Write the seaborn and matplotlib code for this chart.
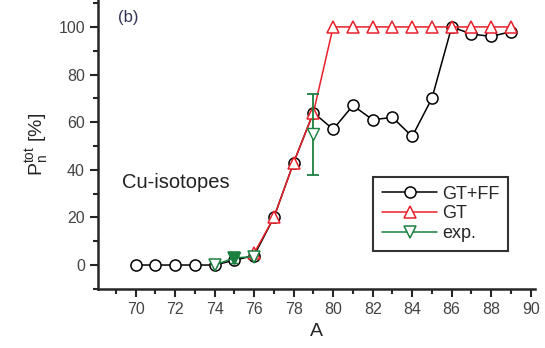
import numpy as np
import pandas as pd
import matplotlib
matplotlib.use("Agg")
import matplotlib.pyplot as plt
from matplotlib.ticker import MultipleLocator
import seaborn as sns

# data
a_gtff = [70, 71, 72, 73, 74, 75, 76, 77, 78, 79, 80, 81, 82, 83, 84, 85, 86, 87, 88, 89]
p_gtff = [0, 0, 0, 0, 0, 2, 4, 20, 43, 64, 57, 67, 61, 62, 54, 70, 100, 97, 96, 98]
a_gt = [76, 77, 78, 79, 80, 81, 82, 83, 84, 85, 86, 87, 88, 89]
p_gt = [5, 20, 43, 64, 100, 100, 100, 100, 100, 100, 100, 100, 100, 100]
a_exp = [74, 75, 76]
p_exp = [0, 3, 3.5]
a_exp79 = [79]
p_exp79 = [55]
err_exp79 = [[17], [17]]

sns.set_style("ticks")
plt.rcParams["font.family"] = ["Liberation Sans", "DejaVu Sans"]

fig = plt.figure(figsize=(5.45, 3.48), dpi=100)
ax = fig.add_axes([0.18, 0.17, 0.801, 0.83])

df_gtff = pd.DataFrame({"A": a_gtff, "P": p_gtff})
df_gt = pd.DataFrame({"A": a_gt, "P": p_gt})
df_exp = pd.DataFrame({"A": a_exp, "P": p_exp})

sns.lineplot(data=df_gtff, x="A", y="P", ax=ax, color="black", lw=1.1, marker="o",
             ms=8, mfc="white", mec="black", mew=1.1, label="GT+FF", zorder=3)
sns.lineplot(data=df_gt, x="A", y="P", ax=ax, color="#e8202a", lw=1.1, marker="^",
             ms=8, mfc="white", mec="#e8202a", mew=1.1, label="GT", zorder=4)
sns.lineplot(data=df_exp, x="A", y="P", ax=ax, color="#1a8040", lw=1.1, marker="v",
             ms=8, mfc="white", mec="#1a8040", mew=1.1, label="exp.", zorder=5)
ax.errorbar(a_exp79, p_exp79, yerr=err_exp79, fmt="v", ms=8, mfc="white", mec="#1a8040",
            ecolor="#1a8040", elinewidth=1.3, capsize=4, capthick=1.3, zorder=5)
ax.errorbar([75], [3], yerr=[[2], [2]], fmt="v", ms=8, mfc="#1a8040", mec="#1a8040",
            ecolor="#1a8040", elinewidth=1.6, capsize=3, zorder=6)

ax.set_xlim(68.1, 90.2)
ax.set_ylim(-10, 111.3)
ax.xaxis.set_major_locator(MultipleLocator(2))
ax.xaxis.set_minor_locator(MultipleLocator(1))
ax.yaxis.set_major_locator(MultipleLocator(20))
ax.yaxis.set_minor_locator(MultipleLocator(10))
ax.tick_params(which="major", length=6, width=1.5, labelsize=11.5, labelcolor="#444444", direction="out")
ax.tick_params(which="minor", length=3.5, width=1.5, direction="out")
for s in ["top", "right"]:
    ax.spines[s].set_visible(False)
for s in ["left", "bottom"]:
    ax.spines[s].set_linewidth(1.8)

ax.set_xlabel("A", fontsize=14, labelpad=4)
ax.set_ylabel(r"P$_{\mathregular{n}}^{\mathregular{tot}}$ [%]", fontsize=14, labelpad=5)

ax.text(0.045, 0.965, "(b)", transform=ax.transAxes, fontsize=12, color="#333355", va="top")
ax.text(0.055, 0.35, "Cu-isotopes", transform=ax.transAxes, fontsize=14.5, color="#222222")

leg = ax.legend(loc="upper left", bbox_to_anchor=(0.61, 0.42), fontsize=13,
                frameon=True, fancybox=False, edgecolor="black", handlelength=3.0,
                handletextpad=0.3, borderpad=0.5, labelspacing=0.15)
leg.get_frame().set_linewidth(1.5)

fig.savefig("out.png", dpi=100)
